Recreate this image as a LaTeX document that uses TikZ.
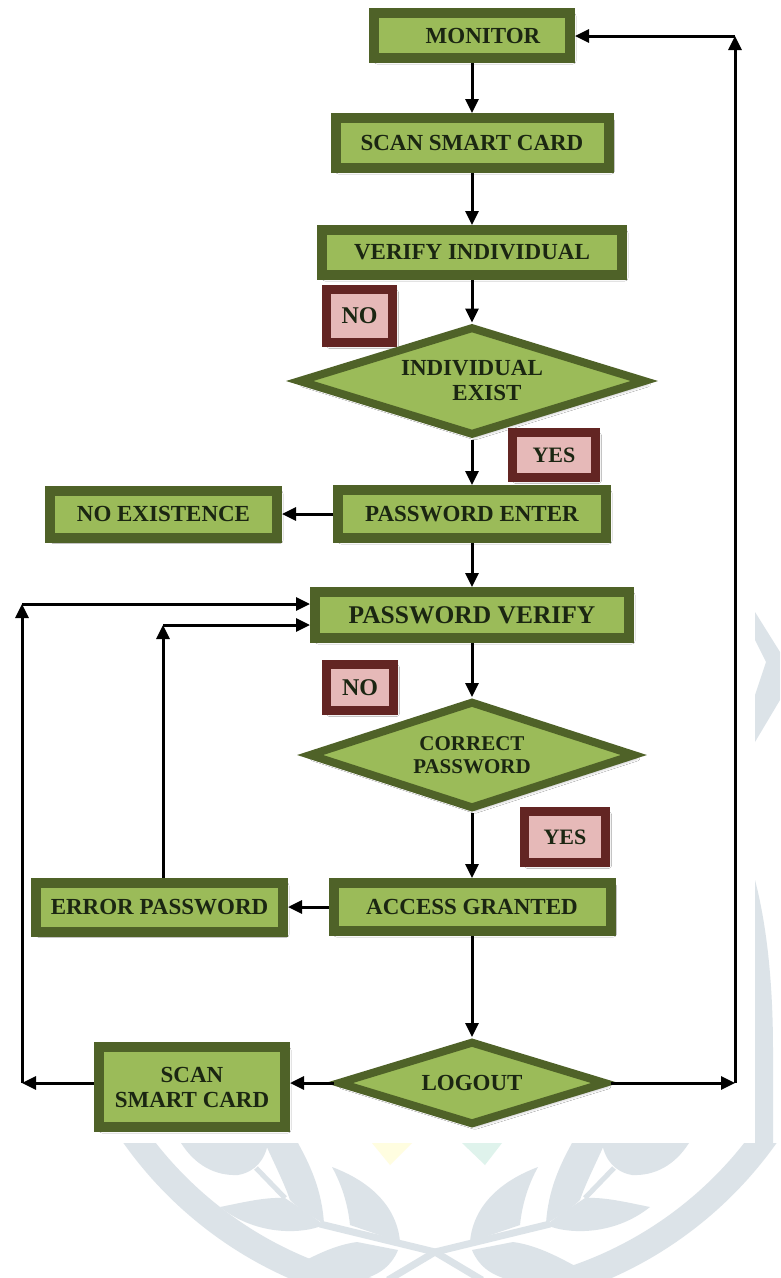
\documentclass[tikz,border=0pt]{standalone}
\usepackage{fontspec}
\setmainfont{Liberation Serif}
\usetikzlibrary{shapes.geometric,arrows.meta,shadows.blur}
\definecolor{olivedark}{HTML}{4F6228}
\definecolor{olivefill}{HTML}{9BBB59}
\definecolor{labborder}{HTML}{632523}
\definecolor{pinkfill}{HTML}{E6B9B8}
\definecolor{txt}{HTML}{1B2612}
\definecolor{wm}{HTML}{DCE3E8}
\definecolor{wmyellow}{HTML}{FFFDE0}
\definecolor{wmmint}{HTML}{DFF3EC}
\begin{document}
\begin{tikzpicture}[x=1pt,y=-1pt,
  shad/.style={blur shadow={shadow xshift=3pt,shadow yshift=-3pt,shadow blur radius=3pt,shadow blur steps=6,shadow opacity=35}},
  box/.style={rectangle, draw=olivedark, line width=10pt, fill=olivefill, inner sep=0pt,
    font=\fontsize{23}{25}\selectfont\bfseries, text=txt, align=center, shad},
  dec/.style={diamond, aspect=3, draw=olivedark, line width=8pt, fill=olivefill, inner sep=0pt,
    font=\fontsize{23}{25}\selectfont\bfseries, text=txt, align=center, shad},
  lab/.style={rectangle, draw=labborder, line width=9pt, fill=pinkfill, inner sep=0pt,
    font=\fontsize{23}{25}\selectfont\bfseries, text=txt, shad},
  arr/.style={line width=3pt, -{Triangle[length=14pt,width=13pt]}},
  leaf/.style={fill=wm}
]
\useasboundingbox (0,0) rectangle (780,1278);
\fill[white] (0,0) rectangle (780,1278);
% ---- watermark ----
\begin{scope}
  \clip (0,1143) rectangle (780,1278);
  \fill[wm, even odd rule] (450,912) circle[radius=400] (450,912) circle[radius=374];
  \foreach \m in {0,1}{
  \begin{scope}[shift={(870*\m,0)}, xscale={1-2*\m}]
    \fill[leaf] (181,1143) .. controls (195,1165) and (215,1176) .. (238,1175) .. controls (255,1172) and (265,1160) .. (268,1143) -- cycle;
    \draw[wm, line width=5pt] (256,1168) -- (285,1198);
    \fill[leaf] (265,1143) .. controls (275,1165) and (285,1185) .. (290,1200) .. controls (300,1210) and (315,1218) .. (324,1224) .. controls (322,1190) and (310,1165) .. (298,1143) -- cycle;
    \fill[leaf] (220,1207) .. controls (245,1202) and (265,1197) .. (285,1198) .. controls (300,1208) and (315,1218) .. (324,1225) .. controls (300,1235) and (255,1235) .. (220,1207) -- cycle;
    \draw[wm, line width=7pt] (320,1224) -- (435,1252) -- (482,1280);
    \fill[leaf] (332,1167) .. controls (342,1185) and (348,1205) .. (350,1225) -- (400,1242) .. controls (398,1215) and (380,1185) .. (332,1167) -- cycle;
    \fill[leaf] (293,1267) .. controls (315,1255) and (335,1245) .. (357,1242) -- (398,1250) .. controls (392,1265) and (380,1275) .. (360,1280) .. controls (330,1282) and (305,1278) .. (293,1267) -- cycle;
  \end{scope}}
  \fill[wmyellow] (372,1143) -- (412,1143) -- (390,1165) -- cycle;
  \fill[wmmint] (462,1143) -- (502,1143) -- (485,1165) -- cycle;
\end{scope}
\fill[wm] (755,612) -- (780,652) -- (780,700) -- (755,742) -- (755,695) -- (766,662) -- (755,640) -- cycle;
\fill[wm] (755,880) .. controls (768,930) and (773,990) .. (773,1050) -- (773,1143) -- (755,1143) -- cycle;
% ---- nodes ----
\node[box, minimum width=196pt, minimum height=45pt] (mon) at (472,35.5) {\hspace*{22pt}MONITOR};
\node[box, minimum width=273pt, minimum height=50pt] (ssc) at (472,143) {SCAN SMART CARD};
\node[box, minimum width=300pt, minimum height=45pt] (vi) at (472,252.5) {VERIFY INDIVIDUAL};
\node[lab, minimum width=66pt, minimum height=53pt, font=\fontsize{24}{26}\selectfont\bfseries] (no1) at (359.5,316) {NO};
\node[dec, minimum width=348pt, minimum height=109pt] (d1) at (472,381) {INDIVIDUAL\\\hspace*{30pt}EXIST};
\node[lab, minimum width=83pt, minimum height=45pt, font=\fontsize{22}{24}\selectfont\bfseries] (yes1) at (554,455) {YES};
\node[box, minimum width=268pt, minimum height=48pt] (pe) at (472,514) {PASSWORD ENTER};
\node[box, minimum width=227pt, minimum height=47pt] (noex) at (163.5,514) {NO EXISTENCE};
\node[box, minimum width=314pt, minimum height=46pt, font=\fontsize{25.5}{27}\selectfont\bfseries] (pv) at (472,615) {PASSWORD VERIFY};
\node[lab, minimum width=67pt, minimum height=46pt, font=\fontsize{24}{26}\selectfont\bfseries] (no2) at (360,687.5) {NO};
\node[dec, minimum width=327pt, minimum height=108pt, font=\fontsize{21}{23}\selectfont\bfseries] (d2) at (472,755) {CORRECT\\PASSWORD};
\node[lab, minimum width=81pt, minimum height=51pt, font=\fontsize{22}{24}\selectfont\bfseries] (yes2) at (565,837) {YES};
\node[box, minimum width=277pt, minimum height=48pt] (ag) at (472,907) {ACCESS GRANTED};
\node[box, minimum width=247pt, minimum height=49pt] (ep) at (159.5,907) {ERROR PASSWORD};
\node[dec, minimum width=269pt, minimum height=84pt] (d3) at (472,1083) {LOGOUT};
\node[box, minimum width=186pt, minimum height=80pt] (ssc2) at (192,1087) {SCAN\\SMART CARD};
% ---- helper coordinates ----
\coordinate (r1) at (735,1083);
\coordinate (r2) at (735,36);
\coordinate (l1) at (22,1083);
\coordinate (l2) at (22,604);
\coordinate (l3) at (163,625);
% ---- connectors ----
\draw[arr] (mon) -- (ssc);
\draw[arr] (ssc) -- (vi);
\draw[arr] (vi) -- (d1);
\draw[arr] (d1) -- (pe);
\draw[arr] (pe) -- (noex);
\draw[arr] (pe) -- (pv);
\draw[arr] (pv) -- (d2);
\draw[arr] (d2) -- (ag);
\draw[arr] (ag) -- (ep);
\draw[arr] (ag) -- (d3);
\draw[arr] (d3.west) -- (d3.west -| ssc2.east);
\draw[arr] (d3.east) -- (r1);
\draw[arr] (r1) -- (r2);
\draw[arr] (r2) -- (r2 -| mon.east);
\draw[arr] (ssc2.west |- l1) -- (l1);
\draw[arr] (l1) -- (l2);
\draw[arr] (l2) -- (l2 -| pv.west);
\draw[arr] (l3 |- ep.north) -- (l3);
\draw[arr] (l3) -- (l3 -| pv.west);
\end{tikzpicture}
\end{document}
